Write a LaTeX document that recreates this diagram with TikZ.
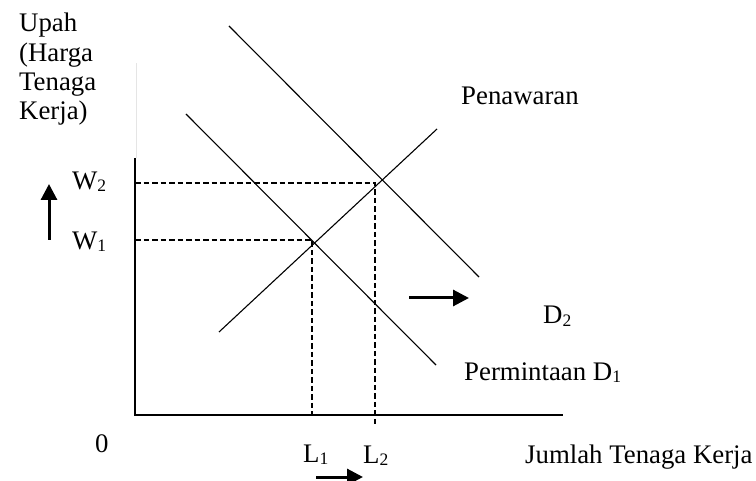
\documentclass[tikz,border=0pt]{standalone}
\usepackage{fontspec}
\setmainfont{Liberation Serif}
\usetikzlibrary{arrows.meta}
\newcommand\subs[1]{\raisebox{-2pt}{\fontsize{17.5}{17.5}\selectfont #1}}
\begin{document}
\begin{tikzpicture}[x=1pt,y=-1pt,
  lbl/.style={anchor=base west,inner sep=0pt,font=\fontsize{26.8}{30}\selectfont},
  curve/.style={line width=1.1pt},
  axis/.style={line width=1.4pt},
  guide/.style={line width=1.1pt,dash pattern=on 5.5pt off 3pt},
  shiftarrow/.style={line width=3pt,-{Triangle[width=16pt,length=16pt]}}]
\useasboundingbox (0,0) rectangle (756,481);
% labels
\node[lbl] (upah) at (19,32) {Upah};
\node[lbl] (harga) at (19,62) {(Harga};
\node[lbl] (tenaga) at (19,91) {Tenaga};
\node[lbl] (kerja) at (19,120) {Kerja)};
\node[lbl] (w2) at (72,190) {W\subs{2}};
\node[lbl] (w1) at (72,250) {W\subs{1}};
\node[lbl] (pen) at (461,105) {Penawaran};
\node[lbl] (d2) at (543,324) {D\subs{2}};
\node[lbl] (perm) at (464,381) {Permintaan D\subs{1}};
\node[lbl] (zero) at (95,452) {0};
\node[lbl] (l1) at (303,462) {L\subs{1}};
\node[lbl] (l2) at (363,463) {L\subs{2}};
\node[lbl] (jtk) at (525,463) {Jumlah Tenaga Kerja};
% coordinates
\coordinate (o) at (135,415);
\coordinate (ytop) at (135,158);
\coordinate (faint) at (136,63);
\coordinate (fainb) at (136,158);
\coordinate (xend) at (563,415);
\coordinate (s1) at (219,332);
\coordinate (s2) at (437,129);
\coordinate (d1a) at (186,114);
\coordinate (d1b) at (436,365);
\coordinate (d2a) at (229,26);
\coordinate (d2b) at (479,277);
\coordinate (w2l) at (135,183);
\coordinate (w2r) at (375,183);
\coordinate (l2b) at (375,427);
\coordinate (w1l) at (135,240);
\coordinate (w1r) at (312,240);
\coordinate (l1b) at (312,415);
\coordinate (ua) at (49,240);
\coordinate (ub) at (49,184);
\coordinate (ra) at (409,298);
\coordinate (rb) at (469,298);
\coordinate (ba) at (316,477);
\coordinate (bb) at (363,477);
% axes
\draw[black!10,line width=0.8pt] (faint) -- (fainb);
\draw[axis] (ytop) -- (o) -- (xend);
% curves
\draw[curve] (s1) -- (s2);
\draw[curve] (d1a) -- (d1b);
\draw[curve] (d2a) -- (d2b);
% guides
\draw[guide] (w2l) -- (w2r) -- (l2b);
\draw[guide] (w1l) -- (w1r) -- (l1b);
% shift arrows
\draw[shiftarrow] (ua) -- (ub);
\draw[shiftarrow] (ra) -- (rb);
\draw[shiftarrow] (ba) -- (bb);
\end{tikzpicture}
\end{document}
